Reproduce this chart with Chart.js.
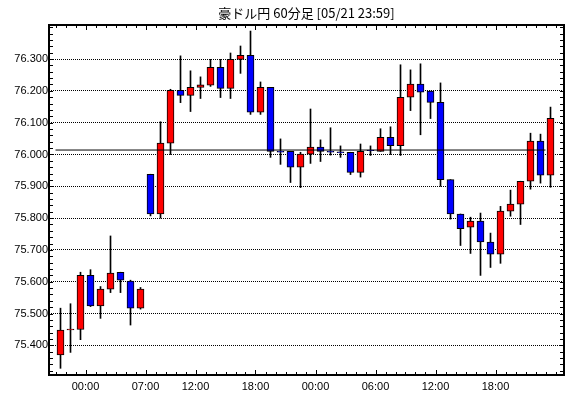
<!DOCTYPE html>
<html>
<head>
<meta charset="utf-8">
<title>豪ドル円 60分足</title>
<script src="https://cdn.jsdelivr.net/npm/chart.js@4/dist/chart.umd.min.js"></script>
<style>
  html, body { margin: 0; padding: 0; background: #fff; }
  #wrap { width: 570px; height: 398px; }
</style>
</head>
<body>
<div id="wrap"><canvas id="chart" width="570" height="398"></canvas></div>
<script>
'use strict';

/*** DATA ***/

var chartTitle = '豪ドル円 60分足 [05/21 23:59]';

// one hourly candle per entry
var opens = [75.370, 75.449, 75.450, 75.620, 75.524, 75.577, 75.630, 75.602, 75.517, 75.938,
  75.813, 76.036, 76.202, 76.186, 76.211, 76.218, 76.274, 76.208, 76.299, 76.312,
  76.133, 76.211, 76.010, 76.010, 75.960, 76.001, 76.023, 76.010, 76.008, 76.007,
  75.944, 76.014, 76.010, 76.054, 76.028, 76.180, 76.221, 76.199, 76.164, 75.921,
  75.813, 75.772, 75.791, 75.725, 75.687, 75.822, 75.844, 75.916, 76.042, 75.935];
var highs = [75.517, 75.531, 75.630, 75.638, 75.585, 75.744, 75.630, 75.605, 75.582, 75.938,
  76.103, 76.205, 76.310, 76.263, 76.244, 76.299, 76.299, 76.319, 76.341, 76.388,
  76.228, 76.211, 76.049, 76.010, 76.007, 76.143, 76.046, 76.084, 76.027, 76.007,
  76.033, 76.027, 76.081, 76.087, 76.282, 76.266, 76.285, 76.199, 76.225, 75.921,
  75.813, 75.803, 75.816, 75.753, 75.837, 75.888, 75.916, 76.067, 76.064, 76.149];
var lows = [75.328, 75.378, 75.418, 75.522, 75.485, 75.566, 75.566, 75.464, 75.514, 75.807,
  75.800, 76.000, 76.163, 76.135, 76.176, 76.214, 76.179, 76.176, 76.255, 76.126,
  76.126, 75.991, 75.969, 75.912, 75.896, 75.972, 75.978, 75.998, 75.991, 75.937,
  75.929, 75.997, 76.010, 76.000, 75.997, 76.138, 76.062, 76.113, 75.900, 75.797,
  75.714, 75.689, 75.620, 75.645, 75.658, 75.806, 75.780, 75.891, 75.910, 75.897];
var closes = [75.448, 75.451, 75.620, 75.524, 75.577, 75.627, 75.605, 75.517, 75.577, 75.813,
  76.036, 76.202, 76.186, 76.211, 76.219, 76.274, 76.208, 76.299, 76.312, 76.133,
  76.211, 76.010, 76.007, 75.960, 76.001, 76.023, 76.010, 76.007, 76.006, 75.944,
  76.010, 76.012, 76.054, 76.028, 76.180, 76.221, 76.196, 76.164, 75.921, 75.813,
  75.767, 75.791, 75.725, 75.687, 75.822, 75.844, 75.916, 76.042, 75.935, 76.114];

// horizontal reference line
var refValue = 76.014;
var refFrom = -0.5;
var refTo = 48.5;

// x axis: labelled hour boundaries (candle index units)
var xTickPos = [2.5, 8.5, 13.5, 19.5, 25.5, 31.5, 37.5, 43.5];
var xTickLabels = ['00:00', '07:00', '12:00', '18:00', '00:00', '06:00', '12:00', '18:00'];

// y axis
var yTickValues = [75.4, 75.5, 75.6, 75.7, 75.8, 75.9, 76.0, 76.1, 76.2, 76.3];
var yMin = 75.307;
var yMax = 76.407;
var xMin = -1.15;
var xMax = 50.35;

/*** BUILD DATASETS ***/

var bodyData = [];
var wickData = [];
for (var i = 0; i < opens.length; i++) {
  bodyData.push({ x: i, y: [opens[i], closes[i]] });
  wickData.push({ x: i, y: [lows[i], highs[i]] });
}

function candleColor(ctx) {
  var i = ctx.dataIndex;
  return closes[i] >= opens[i] ? '#ff0000' : '#0000ff';
}

/*** FRAME, INNER TICKS AND TITLE ***/

var framePlugin = {
  id: 'frame',
  afterDraw: function(chart) {
    var c = chart.ctx;
    var a = chart.chartArea;
    var xs = chart.scales.x;
    var ys = chart.scales.y;
    var v, px, len, k;
    c.save();
    c.strokeStyle = '#000';

    // hour ticks along top and bottom
    c.lineWidth = 1;
    c.beginPath();
    for (v = -0.5; v < opens.length; v++) {
      px = Math.round(xs.getPixelForValue(v)) + 0.5;
      len = xTickPos.indexOf(v) >= 0 ? 5 : 3;
      c.moveTo(px, a.bottom);
      c.lineTo(px, a.bottom - len);
      c.moveTo(px, a.top);
      c.lineTo(px, a.top + len);
    }
    // price ticks along left and right
    for (k = Math.ceil(yMin / 0.02); k * 0.02 <= yMax; k++) {
      px = Math.round(ys.getPixelForValue(k * 0.02)) + 0.5;
      c.moveTo(a.left, px);
      c.lineTo(a.left + 4, px);
      c.moveTo(a.right, px);
      c.lineTo(a.right - 4, px);
    }
    c.stroke();

    // frame
    c.lineWidth = 2;
    c.strokeRect(a.left, a.top, a.right - a.left, a.bottom - a.top);

    // title
    c.fillStyle = '#000';
    c.font = '13px "Noto Sans CJK JP", "Liberation Sans", sans-serif';
    c.textAlign = 'center';
    c.textBaseline = 'middle';
    c.fillText(chartTitle, (a.left + a.right) / 2, 13);
    c.restore();
  }
};

/*** CHART ***/

var ctx = document.getElementById('chart').getContext('2d');
var chart = new Chart(ctx, {
  type: 'bar',
  data: {
    datasets: [
      {
        type: 'line',
        data: [{ x: refFrom, y: refValue }, { x: refTo, y: refValue }],
        borderColor: '#000',
        borderWidth: 1,
        pointRadius: 0,
        order: -1
      },
      {
        data: bodyData,
        backgroundColor: candleColor,
        borderColor: '#000',
        borderWidth: 1,
        borderSkipped: false,
        barThickness: 7,
        grouped: false,
        order: 0
      },
      {
        data: wickData,
        backgroundColor: '#000',
        borderWidth: 0,
        barThickness: 1,
        grouped: false,
        order: 1
      }
    ]
  },
  plugins: [framePlugin],
  options: {
    responsive: false,
    animation: false,
    layout: { padding: { left: 0, right: 6, top: 25, bottom: 0 } },
    plugins: {
      legend: { display: false },
      tooltip: { enabled: false },
      title: { display: false }
    },
    scales: {
      x: {
        type: 'linear',
        offset: false,
        min: xMin,
        max: xMax,
        grid: { display: false, drawTicks: false },
        border: { display: false },
        afterBuildTicks: function(scale) {
          scale.ticks = xTickPos.map(function(p) { return { value: p }; });
        },
        afterFit: function(scale) { scale.height = 23; },
        ticks: {
          autoSkip: false,
          maxRotation: 0,
          padding: 5,
          color: '#000',
          font: { family: '"Liberation Sans", Arial, sans-serif', size: 11 },
          callback: function(value) {
            var idx = xTickPos.indexOf(value);
            return idx >= 0 ? xTickLabels[idx] : '';
          }
        }
      },
      y: {
        type: 'linear',
        min: yMin,
        max: yMax,
        grid: {
          color: '#000',
          lineWidth: 1,
          drawTicks: false
        },
        // dotted horizontal grid
        border: { display: false, dash: [1, 1] },
        afterBuildTicks: function(scale) {
          scale.ticks = yTickValues.map(function(v) { return { value: v }; });
        },
        afterFit: function(scale) { scale.width = 49; },
        ticks: {
          padding: 1,
          color: '#000',
          font: { family: '"Liberation Sans", Arial, sans-serif', size: 11 },
          callback: function(value) { return value.toFixed(3); }
        }
      }
    }
  }
});
</script>
</body>
</html>
